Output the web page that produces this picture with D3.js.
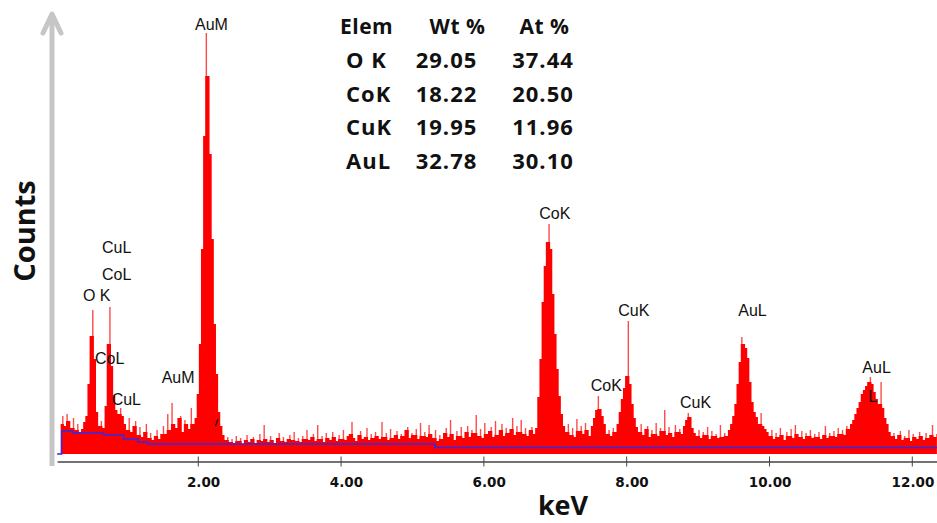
<!DOCTYPE html>
<html>
<head>
<meta charset="utf-8">
<script src="https://cdn.jsdelivr.net/npm/d3@7"></script>
<style>
  html, body { margin: 0; padding: 0; background: #fff; }
  svg { display: block; }
</style>
</head>
<body>
<div id="chart"></div>
<script>
// EDS spectrum, one value per channel
const channelStart = 0.08; // keV of first channel
const channelWidth = 0.03; // keV per channel
const counts = [
  30, 38, 28, 40, 33, 26, 36, 24, 30, 22,
  25, 32, 38, 70, 118, 144, 95, 42, 28, 33,
  26, 48, 110, 147, 88, 58, 44, 40, 46, 38,
  30, 24, 36, 22, 28, 33, 19, 27, 17, 22,
  30, 16, 21, 14, 18, 24, 15, 20, 28, 20,
  40, 24, 51, 30, 26, 36, 38, 22, 34, 30,
  25, 46, 30, 36, 60, 110, 205, 318, 421, 378,
  300, 215, 130, 80, 42, 28, 19, 14, 17, 12,
  15, 11, 18, 13, 16, 10, 14, 19, 12, 15,
  17, 11, 14, 20, 13, 29, 15, 12, 18, 14,
  11, 16, 21, 13, 17, 12, 15, 19, 14, 22,
  13, 16, 12, 18, 15, 24, 14, 17, 20, 13,
  29, 15, 18, 12, 21, 16, 14, 22, 17, 13,
  19, 15, 24, 14, 18, 20, 32, 16, 13, 19,
  23, 15, 17, 26, 14, 20, 16, 22, 18, 15,
  32, 17, 21, 14, 25, 16, 19, 23, 15, 20,
  18, 24, 27, 16, 21, 19, 25, 15, 31, 18,
  22, 17, 29, 20, 16, 24, 13, 19, 15, 21,
  26, 17, 34, 20, 14, 23, 18, 27, 16, 22,
  28, 17, 24, 21, 39, 18, 25, 16, 31, 20,
  23, 27, 17, 33, 19, 24, 30, 18, 26, 21,
  25, 36, 19, 28, 22, 34, 20, 26, 18, 24,
  27, 20, 26, 57, 95, 152, 188, 212, 230, 205,
  160, 120, 85, 58, 40, 28, 22, 30, 19, 26,
  17, 35, 23, 28, 20, 31, 24, 18, 28, 36,
  44, 58, 45, 38, 30, 20, 24, 18, 26, 22,
  30, 42, 55, 66, 78, 133, 70, 50, 36, 27,
  22, 30, 19, 25, 28, 17, 24, 20, 31, 18,
  26, 23, 44, 19, 27, 21, 17, 29, 22, 25,
  20, 28, 34, 41, 37, 26, 21, 18, 24, 16,
  22, 19, 27, 15, 23, 18, 20, 16, 29, 17,
  21, 18, 24, 30, 38, 50, 70, 92, 117, 110,
  106, 96, 72, 52, 42, 37, 30, 41, 28, 25,
  22, 18, 24, 15, 21, 17, 26, 19, 14, 22,
  18, 25, 16, 29, 20, 17, 23, 15, 21, 18,
  24, 16, 20, 17, 22, 15, 19, 28, 16, 21,
  18, 23, 17, 26, 20, 24, 19, 28, 25, 30,
  34, 40, 46, 52, 60, 64, 68, 72, 77, 70,
  62, 55, 50, 72, 46, 36, 30, 22, 18, 21,
  15, 19, 23, 14, 18, 16, 24, 13, 20, 17,
  15, 22, 18, 14, 21, 16, 19, 29, 17, 20
];

// fitted background (blue step line)
const bgKeV = [0.03, 0.094, 0.25, 0.68, 0.96, 1.16, 1.30, 5.32, 12.36];
const bgCounts = [0, 23, 21, 19, 15, 12, 10, 6.5, 6.5];

const tickValues = [2, 4, 6, 8, 10, 12];

// peak annotations
const peakNames = ["AuM", "O K", "CuL", "CoL", "CoL", "CuL", "AuM", "CoK", "CuK", "CoK", "CuK", "AuL", "AuL", "L"];
const peakKeV = [1.961, 0.392, 0.658, 0.658, 0.56, 0.794, 1.494, 6.783, 7.889, 7.503, 8.754, 9.57, 11.307, 11.391];
const peakCounts = [424, 153, 201, 174, 90, 49, 70.7, 234.7, 138, 63.3, 45.7, 138.3, 81.3, 52.3];

// quantification table
const tableHeader = ["Elem", "Wt %", "At %"];
const tableElems = ["O K", "CoK", "CuK", "AuL"];
const tableWt = [29.05, 18.22, 19.95, 32.78];
const tableAt = [37.44, 20.50, 11.96, 30.10];

const width = 937;
const height = 523;

const svg = d3
  .select("#chart")
  .append("svg")
  .attr("width", width)
  .attr("height", height);

const x = d3.scaleLinear().domain([0.03, 12.36]).range([57.1, 937.5]);
const y = d3.scaleLinear().domain([0, 430]).range([454, 24]);

// solid body = what a channel shares with at least one neighbour,
// the rest is drawn as a thin lighter spike
const spectrum = counts.map((c, i) => {
  const nb = Math.max(counts[i - 1] || 0, counts[i + 1] || 0);
  return { e: channelStart + i * channelWidth, c: c, body: Math.min(c, nb) };
});

svg
  .append("g")
  .selectAll("line")
  .data(spectrum.filter((d) => d.c > d.body))
  .enter()
  .append("line")
  .attr("x1", (d) => x(d.e))
  .attr("x2", (d) => x(d.e))
  .attr("y1", y(0))
  .attr("y2", (d) => y(d.c))
  .attr("stroke", "#ff4a4a")
  .attr("stroke-width", 1.4);

const area = d3
  .area()
  .x((d) => x(d.e))
  .y0(y(0))
  .y1((d) => y(d.body))
  .curve(d3.curveStep);

svg
  .append("path")
  .datum(spectrum)
  .attr("fill", "#ff0000")
  .attr("d", area);

// background line
const bg = bgKeV.map((e, i) => ({ e: e, c: bgCounts[i] }));
svg
  .append("path")
  .datum(bg)
  .attr("fill", "none")
  .attr("stroke", "#2b2bf0")
  .attr("stroke-width", 1.4)
  .attr(
    "d",
    d3
      .line()
      .x((d) => x(d.e))
      .y((d) => y(d.c))
      .curve(d3.curveStepAfter)
  );

// x axis
const gx = svg
  .append("g")
  .attr("transform", "translate(0,461.5)")
  .call(
    d3
      .axisBottom(x)
      .tickValues(tickValues)
      .tickFormat(d3.format(".2f"))
      .tickSize(5)
      .tickSizeOuter(0)
  );

gx.select(".domain").attr("stroke", "#444").attr("stroke-width", 1.3);
gx.selectAll(".tick line").attr("y1", -5).attr("y2", 5).attr("stroke", "#444");
gx.selectAll(".tick text")
  .attr("x", 22)
  .attr("y", 25)
  .attr("dy", null)
  .attr("text-anchor", "end")
  .attr("fill", "#111")
  .style("font-family", "'DejaVu Sans', sans-serif")
  .style("font-size", "13.5px")
  .style("font-weight", "bold");

svg
  .append("text")
  .attr("x", 563)
  .attr("y", 515)
  .attr("text-anchor", "middle")
  .style("font-family", "'Open Sans', sans-serif")
  .style("font-size", "27px")
  .style("font-weight", "bold")
  .attr("fill", "#111")
  .text("keV");

// grey y arrow
svg
  .append("line")
  .attr("x1", 52)
  .attr("x2", 52)
  .attr("y1", 15)
  .attr("y2", 466)
  .attr("stroke", "#c6c6c6")
  .attr("stroke-width", 5);

svg
  .append("path")
  .attr("d", "M43,33L52,14L61,33")
  .attr("fill", "none")
  .attr("stroke", "#c6c6c6")
  .attr("stroke-width", 5)
  .attr("stroke-linejoin", "round")
  .attr("stroke-linecap", "round");

svg
  .append("text")
  .attr("transform", "translate(35,231) rotate(-90)")
  .attr("text-anchor", "middle")
  .style("font-family", "'Open Sans', sans-serif")
  .style("font-size", "29px")
  .style("font-weight", "bold")
  .attr("fill", "#111")
  .text("Counts");

// peak labels
svg
  .selectAll(".peak-label")
  .data(peakNames)
  .enter()
  .append("text")
  .attr("class", "peak-label")
  .attr("x", (d, i) => x(peakKeV[i]))
  .attr("y", (d, i) => y(peakCounts[i]))
  .style("font-family", "'Liberation Sans', Arial, sans-serif")
  .style("font-size", "16px")
  .attr("fill", "#111")
  .text((d) => d);

// stray marker at the foot of the AuM peak
svg
  .append("line")
  .attr("x1", 215.5)
  .attr("y1", 426)
  .attr("x2", 218)
  .attr("y2", 419)
  .attr("stroke", "#111")
  .attr("stroke-width", 1.2);

// table
const table = svg
  .append("g")
  .style("font-family", "'Open Sans', sans-serif")
  .style("font-weight", "bold")
  .attr("fill", "#111");

const headerX = [340, 457.5, 544.5];
const headerAnchor = ["start", "middle", "middle"];
table
  .selectAll(".th")
  .data(tableHeader)
  .enter()
  .append("text")
  .attr("class", "th")
  .attr("x", (d, i) => headerX[i])
  .attr("y", 34)
  .attr("text-anchor", (d, i) => headerAnchor[i])
  .style("font-size", "21px")
  .style("letter-spacing", "0.5px")
  .text((d) => d);

const rows = table
  .selectAll(".row")
  .data(tableElems)
  .enter()
  .append("g")
  .attr("class", "row")
  .attr("transform", (d, i) => `translate(0,${68.3 + i * 33.4})`)
  .style("font-size", "22px")
  .style("letter-spacing", "1px");

rows.append("text").attr("x", 346).text((d) => d);
rows
  .append("text")
  .attr("x", 446.5)
  .attr("text-anchor", "middle")
  .text((d, i) => d3.format(".2f")(tableWt[i]));
rows
  .append("text")
  .attr("x", 543)
  .attr("text-anchor", "middle")
  .text((d, i) => d3.format(".2f")(tableAt[i]));
</script>
</body>
</html>
